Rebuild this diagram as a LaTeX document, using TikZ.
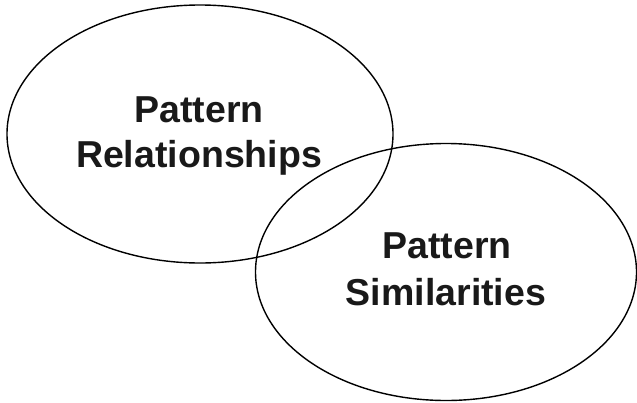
\documentclass[tikz,border=0pt]{standalone}
\usepackage{fontspec}
\setmainfont{Liberation Sans}
\usetikzlibrary{shapes.geometric}
\begin{document}
\begin{tikzpicture}[x=1pt,y=-1pt,
  circ/.style={draw=black,line width=1.4pt,ellipse,inner sep=0pt},
  lbl/.style={font=\fontsize{37.5}{45}\selectfont\bfseries,text=black!90,anchor=base,inner sep=0pt}]
\useasboundingbox (0,0) rectangle (637,402);
\node[circ,minimum width=386pt,minimum height=258pt] (rel) at (200,134) {};
\node[circ,minimum width=381pt,minimum height=257pt] (sim) at (446,272) {};
\node[lbl] (relA) at (199,122) {Pattern};
\node[lbl] (relB) at (199,167) {Relationships};
\node[lbl] (simA) at (447,258) {Pattern};
\node[lbl] (simB) at (446,305) {Similarities};
\end{tikzpicture}
\end{document}
